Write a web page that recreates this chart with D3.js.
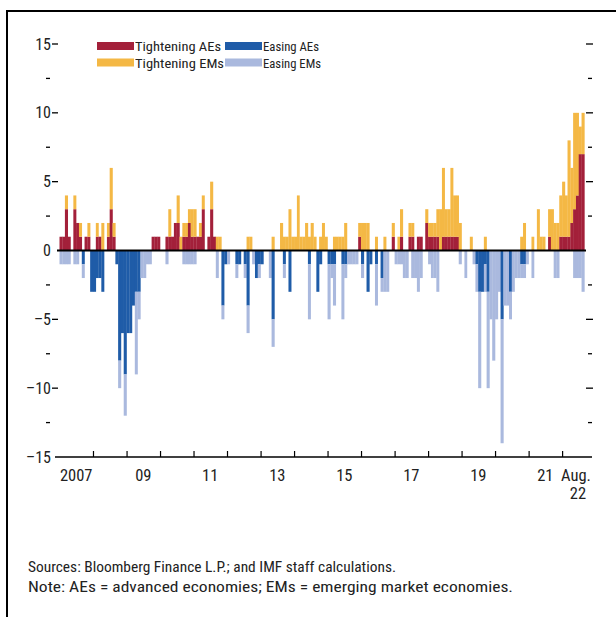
<!DOCTYPE html>
<html><head><meta charset="utf-8">
<script src="https://cdn.jsdelivr.net/npm/d3@7"></script>
<style>
html,body{margin:0;padding:0;background:#fff;}
svg text{font-family:"Liberation Sans Narrow","Arial Narrow","Roboto Condensed","DejaVu Sans Condensed","Liberation Sans",sans-serif;font-stretch:condensed;fill:#222;}
</style></head>
<body>
<svg id="c" width="616" height="617"></svg>
<script>
// Monthly data, Jan 2007 .. Aug 2022 (number of central banks)
const startYear = 2007, nMonths = 188;
const tighteningAEs = [
 1,1,3,1,0,3,2,1,0,1,1,0, 0,1,1,0,0,1,3,1,0,0,0,0, 0,0,0,0,0,0,0,0,0,1,1,1,
 0,0,1,1,1,2,2,0,1,1,2,1, 1,1,1,3,0,1,3,1,0,0,0,0, 0,0,0,0,0,0,0,0,0,0,0,0,
 0,0,0,0,0,0,0,0,0,0,0,0, 0,0,0,0,0,0,0,0,0,0,0,0, 0,0,0,0,0,0,0,0,0,0,0,1,
 0,0,0,0,0,0,0,0,0,0,0,1, 0,0,1,0,0,1,1,0,1,1,0,2, 1,1,1,1,0,1,1,1,1,1,1,0,
 0,0,0,0,0,0,0,0,0,0,0,0, 0,0,0,0,0,0,0,0,0,0,0,0, 0,0,0,0,0,0,0,1,0,0,0,1,
 1,1,1,2,3,4,7,7];
const tighteningEMs = [
 0,0,1,0,0,1,0,1,0,0,1,0, 0,1,0,2,0,1,3,1,0,0,0,0, 0,0,0,0,0,0,0,0,0,0,0,0,
 0,0,0,2,0,0,2,1,1,1,1,2, 2,0,1,1,0,0,2,0,1,1,0,0, 0,0,0,0,0,0,0,1,1,0,0,0,
 0,0,0,0,1,0,0,2,1,1,3,1, 1,4,1,1,2,1,2,1,0,1,2,1, 0,0,1,1,1,1,2,0,0,0,0,1,
 2,2,2,0,0,1,0,0,1,0,0,1, 0,1,2,0,0,1,1,0,0,0,0,1, 1,1,1,2,3,5,2,2,5,3,3,2,
 0,0,0,1,0,0,0,0,1,0,0,0, 0,0,0,0,0,0,0,0,0,1,2,0, 0,1,0,3,1,1,0,2,3,2,2,3,
 4,3,7,4,7,6,2,3];
const easingAEs = [
 0,0,0,0,0,0,0,0,1,0,0,3, 3,2,2,3,0,0,0,0,1,8,6,9, 6,6,4,3,3,0,0,0,0,0,0,0,
 0,0,0,0,0,0,0,0,0,0,0,0, 0,0,0,0,0,0,0,0,0,0,4,1, 0,0,0,1,1,0,1,4,0,0,2,1,
 1,0,0,0,5,0,0,0,1,0,3,0, 0,0,0,0,0,1,0,0,3,1,0,0, 1,1,1,0,0,1,1,0,0,0,0,0,
 1,0,3,1,0,1,0,2,0,0,0,0, 0,0,0,0,0,0,0,0,0,0,0,0, 0,0,0,0,0,0,0,0,0,0,0,0,
 0,0,0,0,0,1,3,3,1,3,0,0, 0,0,5,0,0,3,0,0,0,1,1,0, 0,0,0,0,0,0,0,0,0,0,0,0,
 0,0,0,0,0,0,0,0];
const easingEMs = [
 1,1,1,1,0,1,1,0,1,0,0,0, 0,0,0,0,0,0,0,0,0,2,0,3, 0,0,0,6,2,2,2,1,1,0,0,0,
 0,0,1,0,0,0,0,0,1,1,1,1, 1,0,0,0,0,0,0,0,2,0,1,0, 1,0,0,1,0,0,1,2,0,1,0,1,
 0,0,0,2,2,0,0,0,1,0,0,0, 0,0,0,0,0,4,0,0,0,0,0,0, 4,1,3,0,0,4,1,1,1,1,1,0,
 1,0,0,0,0,3,0,1,3,3,0,0, 1,1,1,2,2,0,2,2,3,2,0,0, 1,2,2,3,0,0,0,0,0,0,0,1,
 0,2,0,0,1,2,7,0,2,7,5,8, 5,3,9,4,4,2,3,2,2,1,1,1, 0,2,0,0,0,0,0,0,0,2,2,0,
 0,0,0,0,2,2,2,3];
const yearLabels = ["2007","09","11","13","15","17","19","21"];
const yearLabelYears = [2007,2009,2011,2013,2015,2017,2019,2021];
const yTicksMajor = [15,10,5,0,-5,-10,-15];
const yTicksMinor = [12.5,7.5,2.5,-2.5,-7.5,-12.5];
const legendItems = [
 {name:"Tightening AEs", color:"#A3203A", w:86},
 {name:"Easing AEs", color:"#1F5CA8", w:56},
 {name:"Tightening EMs", color:"#F4B845", w:89},
 {name:"Easing EMs", color:"#AAB9DE", w:58}];
const sources = "Sources: Bloomberg Finance L.P.; and IMF staff calculations.";
const note = "Note: AEs = advanced economies; EMs = emerging market economies.";

const colors = {ta:"#A3203A", te:"#F4B845", ea:"#1F5CA8", ee:"#AAB9DE"};
const svg = d3.select("#c");

// frame
svg.append("rect").attr("x",7).attr("y",11).attr("width",640).attr("height",640)
  .attr("fill","none").attr("stroke","#000").attr("stroke-width",2);

const x = d3.scaleTime().domain([new Date(2007,0,1), new Date(2022,8,1)]).range([59.5,584.4]);
const y = d3.scaleLinear().domain([-15,15]).range([457,44]);

const months = d3.range(nMonths).map(i => new Date(startYear, i, 1));
const rows = months.map((d,i)=>({d, next:new Date(startYear,i+1,1),
  ta:tighteningAEs[i], te:tighteningEMs[i], ea:easingAEs[i], ee:easingEMs[i]}));

const segs = [];
rows.forEach(r=>{
  if(r.ta) segs.push({r, y0:0, y1:r.ta, c:colors.ta});
  if(r.te) segs.push({r, y0:r.ta, y1:r.ta+r.te, c:colors.te});
  if(r.ea) segs.push({r, y0:0, y1:-r.ea, c:colors.ea});
  if(r.ee) segs.push({r, y0:-r.ea, y1:-r.ea-r.ee, c:colors.ee});
});
svg.append("g").selectAll("rect").data(segs).join("rect")
  .attr("x",s=>x(s.r.d))
  .attr("width",s=>x(s.r.next)-x(s.r.d)+0.25)
  .attr("y",s=>Math.min(y(s.y0),y(s.y1)))
  .attr("height",s=>Math.abs(y(s.y0)-y(s.y1)))
  .attr("fill",s=>s.c);

// zero line
svg.append("line").attr("x1",57).attr("x2",586).attr("y1",y(0)).attr("y2",y(0))
  .attr("stroke","#000").attr("stroke-width",2);

// bottom axis
const xAxis = d3.axisBottom(x).ticks(d3.timeYear.every(1)).tickSizeInner(-6).tickSizeOuter(0).tickFormat("");
const gx = svg.append("g").attr("transform",`translate(0,${y(-15)})`).call(xAxis);
gx.select(".domain").remove();
gx.selectAll(".tick").filter(d=>d.getFullYear()===2007).remove();
gx.selectAll(".tick line").attr("stroke","#000").attr("stroke-width",1.2);
svg.append("line").attr("x1",55).attr("x2",592).attr("y1",y(-15)).attr("y2",y(-15))
  .attr("stroke","#000").attr("stroke-width",1.5);
svg.append("g").selectAll("text").data(yearLabelYears).join("text")
  .attr("x",(d)=>(x(new Date(d,0,1))+x(new Date(d+1,0,1)))/2)
  .attr("y",y(-15)+24).attr("text-anchor","middle").attr("font-size",16.5)
  .text((d,i)=>yearLabels[i]);
svg.append("text").attr("x",576).attr("y",y(-15)+24).attr("text-anchor","middle").attr("font-size",16.5).text("Aug.");
svg.append("text").attr("x",578).attr("y",y(-15)+42).attr("text-anchor","middle").attr("font-size",16.5).text("22");

// y axis labels and ticks
const gy = svg.append("g");
gy.selectAll("text").data(yTicksMajor).join("text")
  .attr("x",51).attr("y",d=>y(d)+5.5).attr("text-anchor","end").attr("font-size",16)
  .text(d=>d<0?"\u2013"+Math.abs(d):d);
gy.selectAll("line.maj").data(yTicksMajor.filter(d=>d!==0 && d!==-15)).join("line").attr("class","maj")
  .attr("x1",52).attr("x2",58).attr("y1",d=>y(d)).attr("y2",d=>y(d)).attr("stroke","#000").attr("stroke-width",1.3);
gy.selectAll("line.min").data(yTicksMinor).join("line").attr("class","min")
  .attr("x1",46).attr("x2",50).attr("y1",d=>y(d)).attr("y2",d=>y(d)).attr("stroke","#000").attr("stroke-width",1.3);
gy.selectAll("line.rmaj").data(yTicksMajor.filter(d=>d!==0 && d!==-15)).join("line").attr("class","rmaj")
  .attr("x1",586).attr("x2",593).attr("y1",d=>y(d)).attr("y2",d=>y(d)).attr("stroke","#000").attr("stroke-width",1.3);
gy.selectAll("line.rmin").data(yTicksMinor).join("line").attr("class","rmin")
  .attr("x1",588).attr("x2",592).attr("y1",d=>y(d)).attr("y2",d=>y(d)).attr("stroke","#000").attr("stroke-width",1.3);

// legend
const lg = svg.append("g");
legendItems.forEach((it,i)=>{
  const col = i%2, row = Math.floor(i/2);
  const lx = col===0?97:225, ly = row===0?46:62.5;
  lg.append("rect").attr("x",lx).attr("y",ly-4).attr("width",37).attr("height",8).attr("fill",it.color);
  lg.append("text").attr("x",lx+38).attr("y",ly+5).attr("font-size",13.5)
    .attr("textLength",it.w).attr("lengthAdjust","spacingAndGlyphs").text(it.name);
});

// footer
svg.append("text").attr("x",28).attr("y",572).attr("font-size",15.5)
  .attr("textLength",368).attr("lengthAdjust","spacingAndGlyphs").text(sources);
svg.append("text").attr("x",28).attr("y",592).attr("font-size",15.5)
  .attr("textLength",485).attr("lengthAdjust","spacingAndGlyphs").text(note);
</script>
</body></html>
